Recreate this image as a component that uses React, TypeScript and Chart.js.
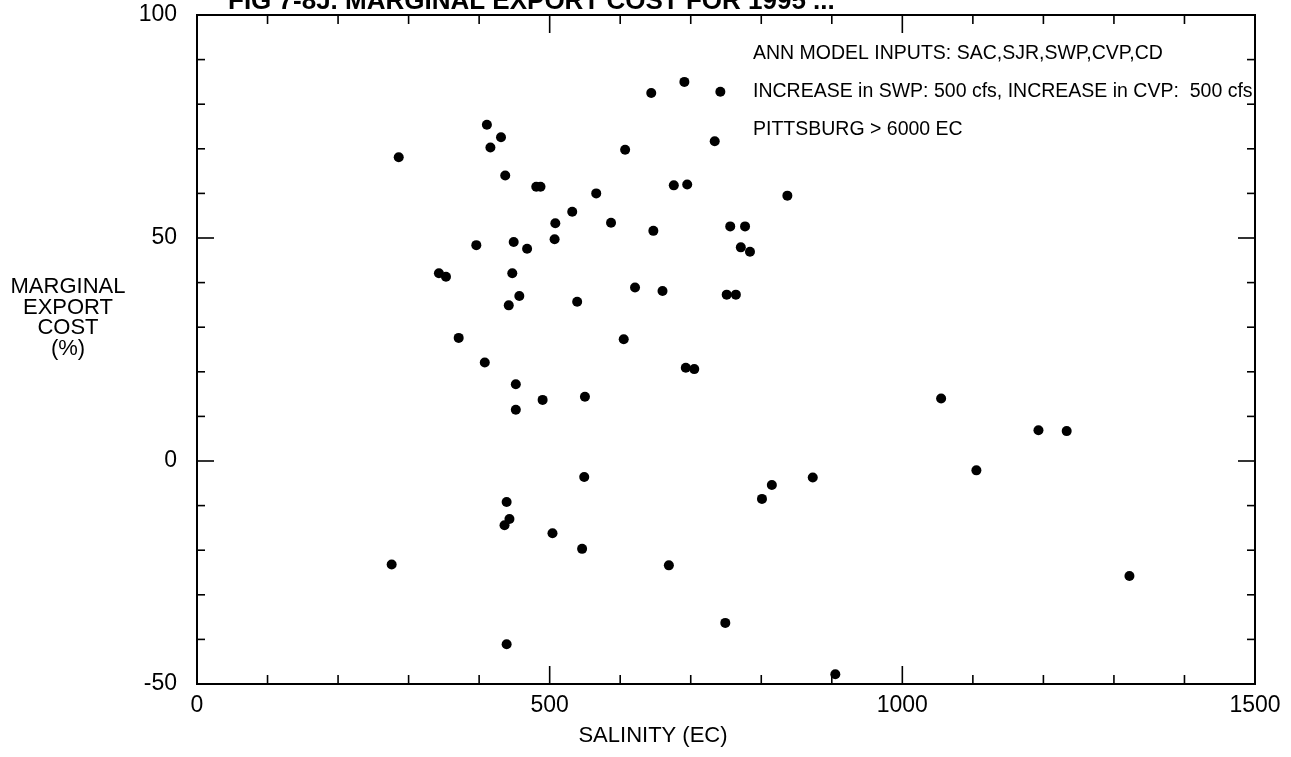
import React, { useEffect, useRef } from "react";
import { Chart, registerables } from "chart.js";

Chart.register(...registerables);

// Salinity (EC) of each point
const salinity = [
  286, 411, 431, 416, 437, 481, 487, 532, 508, 507, 396, 449, 468, 343, 353, 447,
  457, 442, 539, 371, 408, 452, 490, 452, 439, 443, 436, 504, 276, 439,
  691, 644, 742, 734, 607, 676, 695, 566, 837, 587, 647, 756, 777, 771, 784, 621,
  660, 751, 764, 605, 693, 705, 550, 549, 546, 669, 749, 801, 815, 873, 905,
  1055, 1193, 1233, 1105, 1322,
];

// Marginal export cost (%) of each point
const exportCost = [
  68.1, 75.4, 72.6, 70.3, 64.0, 61.5, 61.5, 55.9, 53.3, 49.7, 48.4, 49.1, 47.6, 42.1, 41.3, 42.1,
  37.0, 34.9, 35.7, 27.6, 22.1, 17.2, 13.7, 11.5, -9.2, -13.0, -14.4, -16.2, -23.2, -41.1,
  85.0, 82.5, 82.8, 71.7, 69.8, 61.8, 62.0, 60.0, 59.5, 53.4, 51.6, 52.6, 52.6, 47.9, 46.9, 38.9,
  38.1, 37.3, 37.3, 27.3, 20.9, 20.6, 14.4, -3.6, -19.7, -23.4, -36.3, -8.5, -5.4, -3.7, -47.8,
  14.0, 6.9, 6.7, -2.1, -25.8,
];

const xTickLabels = ["0", "500", "1000", "1500"];
const yTickLabels = ["-50", "0", "50", "100"];
const xTitle = "SALINITY (EC)";
const yTitleLines = ["MARGINAL", "EXPORT", "COST", "(%)"];
const noteLines = [
  "ANN MODEL INPUTS: SAC,SJR,SWP,CVP,CD",
  "INCREASE in SWP: 500 cfs, INCREASE in CVP:  500 cfs",
  "PITTSBURG > 6000 EC",
];
const figTitle = "FIG 7-8J. MARGINAL EXPORT COST FOR 1995 ...";

const FONT = "'Liberation Sans', Arial, Helvetica, sans-serif";

const decorPlugin = {
  id: "decor",
  afterDraw(chart: any) {
    const { ctx, chartArea: a, scales } = chart;
    const xs = scales.x;
    const ys = scales.y;
    ctx.save();
    ctx.strokeStyle = "#000";
    ctx.fillStyle = "#000";
    const line = (x1: number, y1: number, x2: number, y2: number) => {
      ctx.beginPath();
      ctx.moveTo(x1, y1);
      ctx.lineTo(x2, y2);
      ctx.stroke();
    };
    // frame
    ctx.lineWidth = 2;
    ctx.strokeRect(a.left, a.top, a.right - a.left, a.bottom - a.top);
    // inward ticks
    ctx.lineWidth = 1.6;
    xs.ticks.forEach((t: any) => {
      const px = xs.getPixelForValue(t.value);
      const len = t.value % 500 === 0 ? 18 : 9;
      line(px, a.bottom, px, a.bottom - len);
      line(px, a.top, px, a.top + len);
    });
    ys.ticks.forEach((t: any) => {
      const py = ys.getPixelForValue(t.value);
      const len = t.value % 50 === 0 ? 17 : 8;
      line(a.left, py, a.left + len, py);
      line(a.right, py, a.right - len, py);
    });

    // x-axis title
    ctx.font = `22px ${FONT}`;
    ctx.textAlign = "center";
    ctx.textBaseline = "middle";
    ctx.fillText(xTitle, 653, 736);

    // y-axis title (horizontal, stacked)
    ctx.font = `22px ${FONT}`;
    yTitleLines.forEach((s, i) => ctx.fillText(s, 68, 287 + i * 20.5));

    // notes
    ctx.font = `19.5px ${FONT}`;
    ctx.textAlign = "left";
    noteLines.forEach((s, i) => ctx.fillText(s, 753, 54 + i * 38));

    // figure title (clipped at top of page)
    ctx.font = `bold 26px ${FONT}`;
    ctx.textBaseline = "alphabetic";
    ctx.fillText(figTitle, 228, 9);
    ctx.restore();
  },
};

export default function App() {
  const ref = useRef<HTMLCanvasElement | null>(null);

  useEffect(() => {
    if (!ref.current) return;
    const points = salinity.map((x, i) => ({ x, y: exportCost[i] }));
    const chart = new Chart(ref.current, {
      type: "scatter",
      data: {
        datasets: [
          {
            data: points,
            backgroundColor: "#000",
            borderColor: "#000",
            pointRadius: 5,
            pointBorderWidth: 0,
            pointHoverRadius: 5,
          },
        ],
      },
      options: {
        responsive: false,
        animation: false,
        events: [],
        layout: { padding: { top: 15, right: 36, left: 0, bottom: 0 } },
        plugins: {
          legend: { display: false },
          tooltip: { enabled: false },
          title: { display: false },
        },
        scales: {
          x: {
            type: "linear",
            min: 0,
            max: 1500,
            afterFit: (s: any) => {
              s.height = 73;
              s.paddingLeft = 0;
              s.paddingRight = 0;
            },
            grid: { display: false, drawTicks: false },
            border: { display: false },
            ticks: {
              stepSize: 100,
              autoSkip: false,
              maxRotation: 0,
              padding: 8,
              color: "#000",
              font: { family: FONT, size: 23 },
              callback: (v: any) => {
                const idx = [0, 500, 1000, 1500].indexOf(Number(v));
                return idx >= 0 ? xTickLabels[idx] : "";
              },
            },
          },
          y: {
            type: "linear",
            min: -50,
            max: 100,
            afterFit: (s: any) => {
              s.width = 197;
              s.paddingTop = 0;
              s.paddingBottom = 0;
            },
            grid: { display: false, drawTicks: false },
            border: { display: false },
            ticks: {
              stepSize: 10,
              autoSkip: false,
              padding: 20,
              color: "#000",
              font: { family: FONT, size: 23 },
              callback: (v: any) => {
                const idx = [-50, 0, 50, 100].indexOf(Number(v));
                return idx >= 0 ? yTickLabels[idx] : "";
              },
            },
          },
        },
      },
      plugins: [decorPlugin],
    });
    return () => chart.destroy();
  }, []);

  return (
    <div
      style={{
        position: "absolute",
        left: 0,
        top: 0,
        width: 1291,
        height: 757,
        background: "#fff",
        overflow: "hidden",
      }}
    >
      <canvas ref={ref} width={1291} height={757} style={{ display: "block" }} />
    </div>
  );
}
